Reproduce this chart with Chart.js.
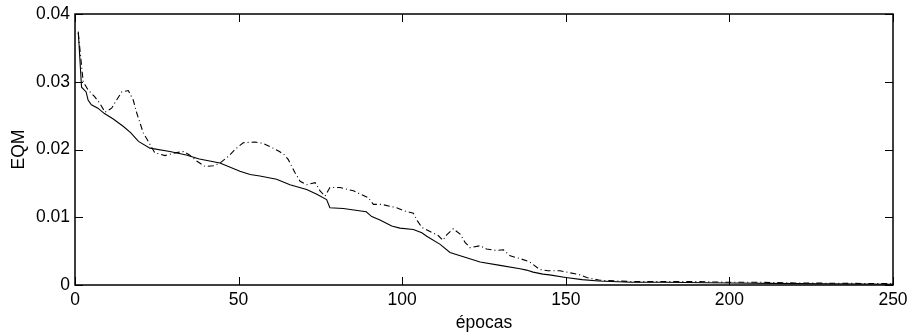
<!DOCTYPE html>
<html>
<head>
<meta charset="utf-8">
<script src="https://cdn.jsdelivr.net/npm/chart.js@4/dist/chart.umd.min.js"></script>
<style>
html,body{margin:0;padding:0;background:#fff;}
#c{display:block;}
</style>
</head>
<body>
<canvas id="c" width="908" height="335"></canvas>
<script>
// ---- data ----
const trainEpochs = [1,2,3.4,4,5,7,9,11.7,14.8,17,19.4,22.9,29,34,38,44.3,50.4,53.5,56.5,61.6,65.7,70.8,73.9,76.9,77.9,82,89,90.7,93.2,96.8,99.3,103.4,106,107.5,111.6,114.6,119.2,123.8,129.9,136,138,140,143,145,150,155,160,170,180,200,220,250];
const trainEQM = [0.0374,0.0292,0.0285,0.0273,0.0266,0.0261,0.0253,0.0245,0.0234,0.0225,0.0212,0.0202,0.0197,0.0192,0.0186,0.0180,0.0168,0.0163,0.0161,0.0156,0.0148,0.0141,0.0134,0.0126,0.0114,0.0113,0.0108,0.0101,0.0096,0.0087,0.0084,0.0082,0.0077,0.0072,0.0060,0.0048,0.0041,0.0034,0.0029,0.0024,0.0022,0.0019,0.0016,0.0015,0.0011,0.0008,0.0006,0.0004,0.0004,0.0003,0.0002,0.0001];

const valEpochs = [1,2.5,4,6,7.6,9.2,11.2,12.7,14.3,16.3,17.8,18.8,20.9,22.4,24.4,27.5,30.6,33.1,35,37.2,39.7,42.3,44.3,46.9,48.9,51.4,55,57.5,60.1,62.5,64,65.2,67.2,68.8,70.8,73.4,74.9,76.4,77.9,81,85.1,89.6,91.2,93.7,98.3,100.9,103.4,104.6,106,108.5,111,112.4,113.6,115.6,117.7,119.2,120.7,123.8,125.8,128.9,130.9,133,136,139,142,144.5,148.2,151.3,154.3,156.4,160.4,165,171,180,190,200,210,220,250];
const valEQM = [0.0372,0.0300,0.0288,0.0278,0.0268,0.0255,0.0261,0.0273,0.0285,0.0287,0.0273,0.0255,0.0224,0.0212,0.0195,0.0191,0.0195,0.0197,0.0192,0.0183,0.0175,0.0176,0.0180,0.0190,0.0200,0.0210,0.0211,0.0209,0.0203,0.0197,0.0192,0.0185,0.0166,0.0153,0.0148,0.0151,0.0139,0.0131,0.0144,0.0144,0.0139,0.0129,0.0119,0.0119,0.0114,0.0109,0.0106,0.0095,0.0085,0.0079,0.0073,0.0066,0.0074,0.0083,0.0075,0.0063,0.0055,0.0058,0.0053,0.0051,0.0052,0.0043,0.0039,0.0034,0.0023,0.0021,0.0021,0.0018,0.0015,0.0011,0.0007,0.0006,0.0005,0.0005,0.0005,0.0004,0.0004,0.0003,0.0002];

const xTicks = [0,50,100,150,200,250];
const yTicks = [0,0.01,0.02,0.03,0.04];
const yTickLabels = ['0','0.01','0.02','0.03','0.04'];
const xTitle = 'épocas';
const yTitle = 'EQM';

// ---- chart ----
const FONT = {family: '"Liberation Sans", Arial, Helvetica, sans-serif', size: 17.5};

const boxTicks = {
  id: 'boxTicks',
  afterDatasetsDraw(chart) {
    const {ctx, chartArea: a, scales: {x, y}} = chart;
    const L = 8;
    ctx.save();
    ctx.strokeStyle = '#000';
    ctx.lineWidth = 1;
    ctx.beginPath();
    xTicks.forEach(v => {
      const px = Math.round(x.getPixelForValue(v)) + 0.5;
      ctx.moveTo(px, a.bottom); ctx.lineTo(px, a.bottom - L);
      ctx.moveTo(px, a.top); ctx.lineTo(px, a.top + L);
    });
    yTicks.forEach(v => {
      const py = Math.round(y.getPixelForValue(v)) + 0.5;
      ctx.moveTo(a.left, py); ctx.lineTo(a.left + L, py);
      ctx.moveTo(a.right, py); ctx.lineTo(a.right - L, py);
    });
    ctx.stroke();
    ctx.lineWidth = 1.5;
    ctx.strokeRect(a.left, a.top, a.right - a.left, a.bottom - a.top);
    ctx.restore();
  }
};

new Chart(document.getElementById('c'), {
  type: 'line',
  data: {
    datasets: [
      {
        label: 'train',
        data: trainEpochs.map((e, i) => ({x: e, y: trainEQM[i]})),
        borderColor: '#000', borderWidth: 1.1, pointRadius: 0, tension: 0, fill: false
      },
      {
        label: 'val',
        data: valEpochs.map((e, i) => ({x: e, y: valEQM[i]})),
        borderColor: '#000', borderWidth: 1.1, borderDash: [6, 3, 1, 3], pointRadius: 0, tension: 0, fill: false
      }
    ]
  },
  options: {
    responsive: false,
    animation: false,
    devicePixelRatio: 1,
    layout: {padding: {top: 14, right: 15, left: 0, bottom: 0}},
    plugins: {legend: {display: false}, tooltip: {enabled: false}},
    scales: {
      x: {
        type: 'linear', min: 0, max: 250,
        afterBuildTicks: s => { s.ticks = xTicks.map(v => ({value: v})); },
        afterFit: s => { s.height = 50; s.paddingLeft = 0; s.paddingRight = 0; },
        grid: {display: false, drawTicks: false},
        border: {display: false},
        ticks: {color: '#000', font: FONT, padding: 5, maxRotation: 0, callback: v => String(v)},
        title: {display: true, text: xTitle, color: '#000', font: FONT, padding: {top: 0, bottom: 1}}
      },
      y: {
        type: 'linear', min: 0, max: 0.04,
        afterBuildTicks: s => { s.ticks = yTicks.map(v => ({value: v})); },
        afterFit: s => { s.width = 75; s.paddingTop = 0; s.paddingBottom = 0; },
        grid: {display: false, drawTicks: false},
        border: {display: false},
        ticks: {color: '#000', font: FONT, padding: 5, callback: (v) => yTickLabels[yTicks.indexOf(v)] ?? ''},
        title: {display: true, text: yTitle, color: '#000', font: FONT, padding: {top: 9, bottom: 0}}
      }
    }
  },
  plugins: [boxTicks]
});
</script>
</body>
</html>
